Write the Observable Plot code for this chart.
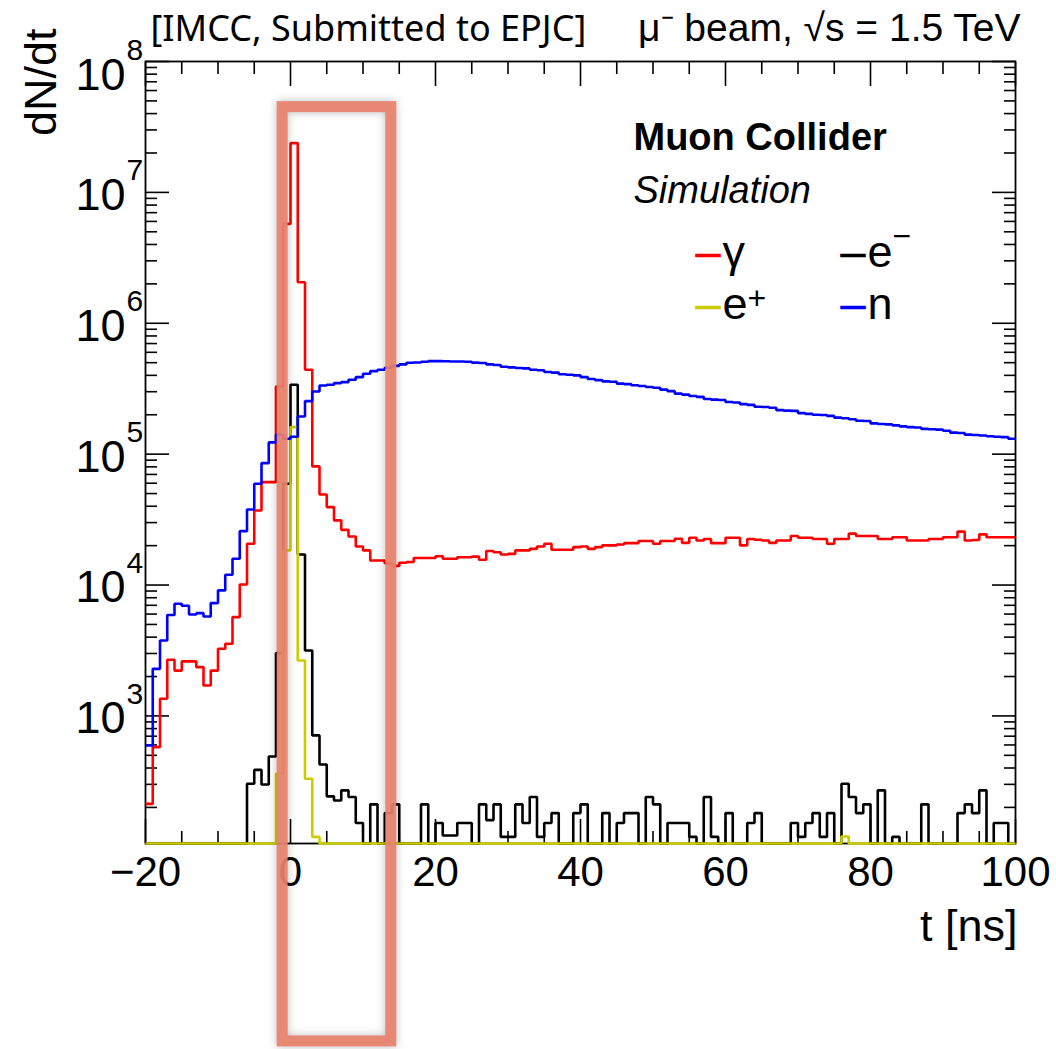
<!DOCTYPE html>
<html>
<head>
<meta charset="utf-8">
<script src="https://cdn.jsdelivr.net/npm/d3@7"></script>
<script src="https://cdn.jsdelivr.net/npm/@observablehq/plot@0.6"></script>
<style>
  html, body { margin: 0; padding: 0; background: #fff; }
  #chart { width: 1056px; height: 1049px; }
</style>
</head>
<body>
<div id="chart"></div>
<script>
// ---------------- DATA (bin contents, 1 ns bins from t = -20 ns to 100 ns) ----------------
const tStart = -20;
const binWidth = 1;

// γ (photons), red
const photon = [
  213, 578, 1352, 2690, 2220, 2610, 2610, 2360, 1710, 2220,
  3260, 3560, 5690, 10100, 20700, 37100, 61100, 61100, 329000, 5750000,
  23800000, 2060000, 441000, 80600, 49200, 39400, 31200, 26400, 23500, 19700,
  18400, 15400, 15400, 14700, 14000, 14800, 15000, 16100, 16100, 16100,
  16600, 15900, 15900, 16300, 16300, 16500, 15600, 18200, 17800, 17100,
  17300, 18400, 18400, 18900, 19700, 20700, 18600, 18600, 18600, 19500,
  19700, 18900, 19500, 20100, 20100, 20400, 20900, 20900, 21700, 21700,
  20700, 21700, 21700, 22600, 21000, 23000, 21900, 22500, 20900, 20900,
  23000, 23000, 20100, 22500, 22200, 21900, 21000, 21900, 21900, 23700,
  23000, 23000, 22500, 22500, 20700, 22500, 22500, 24700, 23700, 23700,
  23700, 22500, 22500, 23200, 23200, 21900, 21900, 21900, 22500, 22500,
  23200, 23200, 25600, 21900, 22100, 24400, 23200, 23200, 23200, 23200
];

// e- (electrons), black
const electron = [
  0, 0, 0, 0, 0, 0, 0, 0, 0, 0,
  0, 0, 0, 0, 303, 387, 299, 490, 3020, 59400,
  339000, 17100, 3160, 710, 426, 243, 226, 270, 240, 152,
  0, 211, 0, 181, 211, 0, 0, 0, 211, 0,
  152, 122, 122, 152, 152, 0, 211, 160, 211, 119,
  119, 211, 152, 240, 119, 152, 181, 0, 0, 181,
  211, 0, 0, 181, 0, 152, 181, 181, 0, 240,
  211, 0, 152, 152, 152, 119, 0, 240, 119, 0,
  181, 0, 0, 152, 181, 0, 0, 0, 0, 152,
  119, 152, 181, 119, 181, 0, 303, 240, 181, 211,
  0, 270, 0, 119, 0, 0, 0, 211, 0, 0,
  0, 0, 181, 211, 181, 270, 0, 152, 152, 0
];

// e+ (positrons), yellow
const positron = [
  0, 0, 0, 0, 0, 0, 0, 0, 0, 0,
  0, 0, 0, 0, 0, 0, 0, 0, 361, 18400,
  161000, 2650, 331, 119, 0, 0, 0, 0, 0, 0,
  0, 0, 0, 0, 0, 0, 0, 0, 0, 0,
  0, 0, 0, 0, 0, 0, 0, 0, 0, 0,
  0, 0, 0, 0, 0, 0, 0, 0, 0, 0,
  0, 0, 0, 0, 0, 0, 0, 0, 0, 0,
  0, 0, 0, 0, 0, 0, 0, 0, 0, 0,
  0, 0, 0, 0, 0, 0, 0, 0, 0, 0,
  0, 0, 0, 0, 0, 0, 120, 0, 0, 0,
  0, 0, 0, 0, 0, 0, 0, 0, 0, 0,
  0, 0, 0, 0, 0, 0, 0, 0, 0, 0
];

// n (neutrons), blue
const neutron = [
  595, 2290, 3770, 5900, 7200, 6950, 5960, 6100, 5750, 7280,
  9100, 12000, 15900, 25800, 37800, 59400, 85400, 123000, 141000, 131000,
  136000, 194000, 254000, 301000, 335000, 339000, 349000, 355000, 370000, 388000,
  411000, 431000, 441000, 457000, 473000, 485000, 499000, 502000, 508000, 514000,
  514000, 512000, 511000, 511000, 508000, 500000, 497000, 485000, 480000, 465000,
  460000, 455000, 452000, 442000, 438000, 424000, 420000, 408000, 404000, 400000,
  388000, 375000, 368000, 360000, 357000, 346000, 343000, 336000, 332000, 326000,
  322000, 311000, 303000, 290000, 285000, 278000, 274000, 264000, 261000, 259000,
  250000, 248000, 241000, 238000, 230000, 229000, 226000, 217000, 215000, 214000,
  206000, 203000, 200000, 199000, 196000, 190000, 188000, 185000, 180000, 179000,
  172000, 170000, 169000, 166000, 163000, 161000, 160000, 156000, 155000, 154000,
  151000, 146000, 145000, 141000, 140000, 139000, 137000, 136000, 135000, 131000
];

// axis ticks / labels
const xMajorTicks = [-20, 0, 20, 40, 60, 80, 100];
const xMinorTicks = [-15, -10, -5, 5, 10, 15, 25, 30, 35, 45, 50, 55, 65, 70, 75, 85, 90, 95];
const yLabelExponents = [3, 4, 5, 6, 7, 8];

// texts
const headerLeft = "[IMCC, Submitted to EPJC]";
const headerRight = "μ⁻ beam, √s = 1.5 TeV";
const xTitle = "t [ns]";
const yTitle = "dN/dt";
const expLabel = "Muon Collider";
const simLabel = "Simulation";

// highlight box (annotation, in data units)
const highlight = [{t0: -1.08, t1: 13.9, v0: 3.26, v1: 4.48e7}];

// ---------------- STYLE / LAYOUT ----------------
const yMin = 106, yMax = 1e8;
const FONT = "'Liberation Sans', Arial, Helvetica, sans-serif";
const series = [
  {name: "γ", values: photon, color: "#ff0000"},
  {name: "e-", values: electron, color: "#000000"},
  {name: "e+", values: positron, color: "#cccc00"},
  {name: "n", values: neutron, color: "#0000ff"}
];

const legendEntries = [
  {label: "γ", sup: "", color: "#ff0000", col: 0, row: 0},
  {label: "e", sup: "−", color: "#000000", col: 1, row: 0},
  {label: "e", sup: "+", color: "#cccc00", col: 0, row: 1},
  {label: "n", sup: "", color: "#0000ff", col: 1, row: 1}
];
const legendColX = [550, 695];   // px from frame left (dash start)
const legendRowY = [205, 257];   // px from frame top (text baseline)

const yMinorTicks = [];
for (let k = 2; k <= 7; k++) for (let m = 2; m <= 9; m++) {
  const v = m * Math.pow(10, k);
  if (v >= yMin && v <= yMax) yMinorTicks.push(v);
}
const yMajorTicks = [1e3, 1e4, 1e5, 1e6, 1e7, 1e8];

function steps(values) {
  const pts = values.map((v, i) => ({t: tStart + i * binWidth, v}));
  pts.push({t: tStart + values.length * binWidth, v: values[values.length - 1]});
  return pts;
}
const fmtX = d => d < 0 ? "−" + Math.abs(d) : String(d);
// top-most label is nudged down (as in the ROOT output)
const yLabelShift = e => e === 8 ? 11 : 0;

const tickOpts = {fill: "none", label: null, stroke: "#000", strokeWidth: 1.6};

const marks = [
  Plot.frame({stroke: "#000", strokeWidth: 1.8}),
  Plot.axisX(xMajorTicks, {...tickOpts, anchor: "bottom", tickSize: -24}),
  Plot.axisX(xMajorTicks, {...tickOpts, anchor: "top", tickSize: -24}),
  Plot.axisX(xMinorTicks, {...tickOpts, anchor: "bottom", tickSize: -12}),
  Plot.axisX(xMinorTicks, {...tickOpts, anchor: "top", tickSize: -12}),
  Plot.axisY(yMajorTicks, {...tickOpts, anchor: "left", tickSize: -24}),
  Plot.axisY(yMajorTicks, {...tickOpts, anchor: "right", tickSize: -24}),
  Plot.axisY(yMinorTicks, {...tickOpts, anchor: "left", tickSize: -12}),
  Plot.axisY(yMinorTicks, {...tickOpts, anchor: "right", tickSize: -12}),
  ...series.map(s => Plot.line(steps(s.values), {
    x: "t", y: d => Math.max(d.v, yMin), curve: "step-after",
    stroke: s.color, strokeWidth: 2.6, strokeLinejoin: "miter", strokeLinecap: "butt"
  })),
  // x tick labels
  Plot.text(xMajorTicks, {x: d => d, frameAnchor: "bottom", text: fmtX, lineAnchor: "bottom", dy: 42, fontSize: 42}),
  // y tick labels 10^n
  ...yLabelExponents.map(e => Plot.text([e], {y: d => Math.pow(10, d), frameAnchor: "left", text: () => "10", textAnchor: "end", lineAnchor: "middle", dx: -20, dy: 3 + yLabelShift(e), fontSize: 45})),
  ...yLabelExponents.map(e => Plot.text([e], {y: d => Math.pow(10, d), frameAnchor: "left", text: d => String(d), textAnchor: "start", lineAnchor: "middle", dx: -19, dy: -22 + yLabelShift(e), fontSize: 30})),
  // axis titles
  Plot.text([xTitle], {frameAnchor: "bottom-right", text: d => d, textAnchor: "end", lineAnchor: "bottom", dx: 2, dy: 97, fontSize: 45}),
  Plot.text([yTitle], {frameAnchor: "top-left", text: d => d, rotate: -90, textAnchor: "end", lineAnchor: "bottom", dx: -90, dy: -33, fontSize: 45}),
  // header
  Plot.text([headerLeft], {frameAnchor: "top-left", text: d => d, textAnchor: "start", lineAnchor: "bottom", dx: 5, dy: -21, fontSize: 36, fontFamily: "'Noto Sans', sans-serif"}),
  Plot.text([headerRight], {frameAnchor: "top-right", text: d => d, textAnchor: "end", lineAnchor: "bottom", dx: 5, dy: -21, fontSize: 39, ariaLabel: "header-right"}),
  // experiment labels
  Plot.text([expLabel], {frameAnchor: "top-left", text: d => d, textAnchor: "start", lineAnchor: "bottom", dx: 488, dy: 88, fontSize: 38, fontWeight: "bold"}),
  Plot.text([simLabel], {frameAnchor: "top-left", text: d => d, textAnchor: "start", lineAnchor: "bottom", dx: 488, dy: 141, fontSize: 38, fontStyle: "italic"}),
  // legend
  ...legendEntries.flatMap(e => [
    Plot.text(["–"], {frameAnchor: "top-left", text: d => d, fill: e.color, stroke: e.color, strokeWidth: 0.6, textAnchor: "start", lineAnchor: "bottom", dx: legendColX[e.col], dy: legendRowY[e.row], fontSize: 45}),
    Plot.text([e.label], {frameAnchor: "top-left", text: d => d, textAnchor: "start", lineAnchor: "bottom", dx: legendColX[e.col] + 27, dy: legendRowY[e.row], fontSize: 45}),
    ...(e.sup ? [Plot.text([e.sup], {frameAnchor: "top-left", text: d => d, textAnchor: "start", lineAnchor: "bottom", dx: legendColX[e.col] + 52, dy: legendRowY[e.row] - (e.sup === "+" ? 10 : 20), fontSize: 32})] : [])
  ]),
  // highlight box
  Plot.rect(highlight, {x1: "t0", x2: "t1", y1: "v0", y2: "v1", fill: "none", stroke: "#E8826D", strokeWidth: 11, strokeOpacity: 0.92})
];

const chart = Plot.plot({
  width: 1056,
  height: 1049,
  marginLeft: 145,
  marginRight: 41,
  marginTop: 61,
  marginBottom: 206,
  style: {fontFamily: FONT, background: "#fff", overflow: "visible"},
  x: {domain: [-20, 100]},
  y: {type: "log", domain: [yMin, yMax]},
  marks
});
document.getElementById("chart").appendChild(chart);
d3.select(chart).selectAll('g[aria-label="rect"] rect')
  .style("filter", "drop-shadow(0px 0px 4px rgba(0,0,0,0.28))");
// overline over the "s" of √s in the right header
d3.select(chart).selectAll('g[aria-label="header-right"] text').each(function () {
  const el = d3.select(this);
  const txt = el.text();
  const i = txt.indexOf("√s");
  if (i < 0) return;
  el.text(null);
  el.append("tspan").text(txt.slice(0, i + 1));
  el.append("tspan").style("text-decoration", "overline").text("s");
  el.append("tspan").text(txt.slice(i + 2));
});
</script>
</body>
</html>
